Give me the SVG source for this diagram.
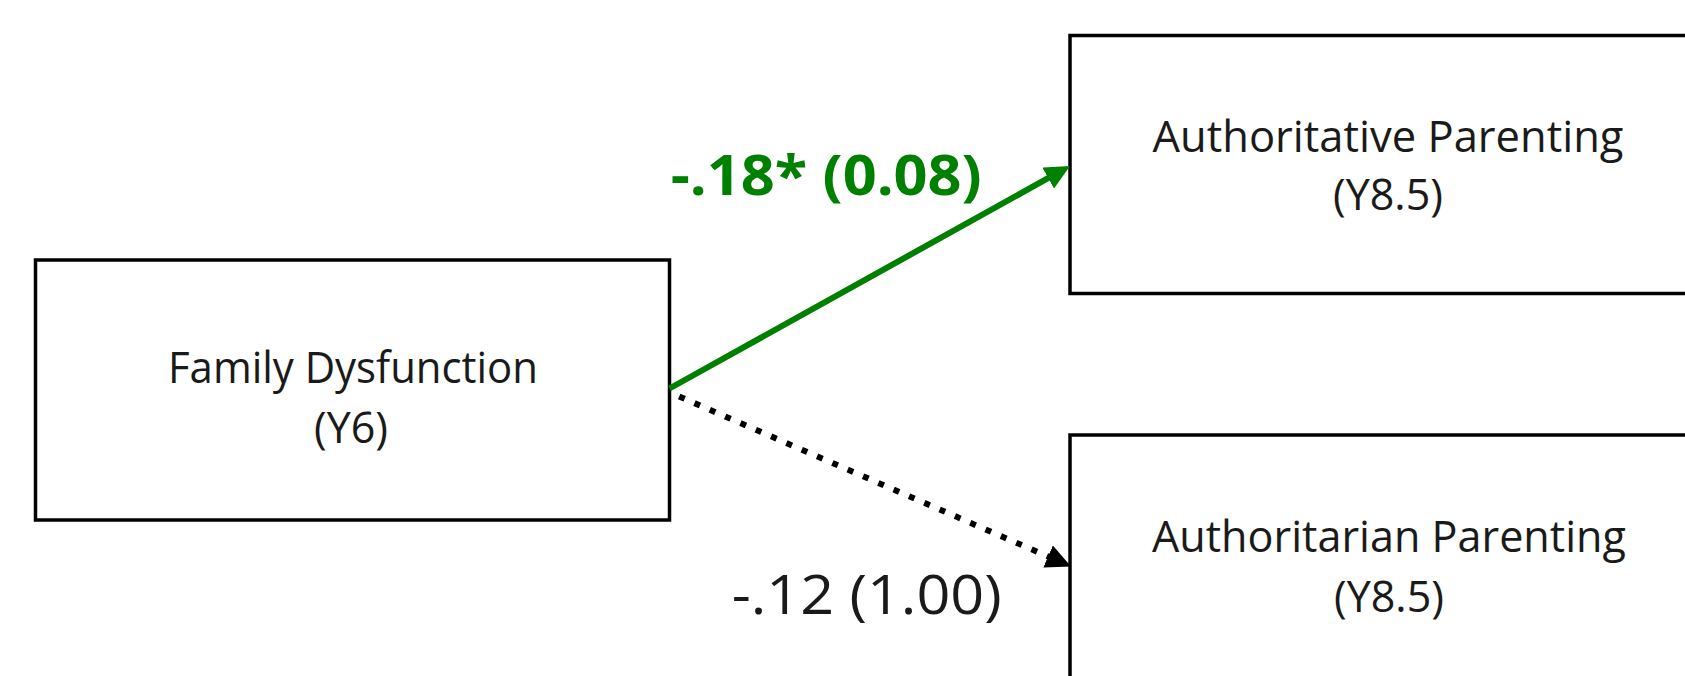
<svg xmlns="http://www.w3.org/2000/svg" width="1685" height="676" viewBox="0 0 1685 676">
  <style>
    .box { fill: #ffffff; stroke: #000000; stroke-width: 3.5; }
    .lbl { font-family: "Open Sans", "Noto Sans", "Liberation Sans", sans-serif; font-size: 43px; fill: #1a1a1a; text-anchor: middle; }
    .coef { font-family: "Open Sans", "Noto Sans", "Liberation Sans", sans-serif; }
    .sig { font-size: 56px; font-weight: bold; fill: #008000; }
    .ns { font-size: 54px; fill: #1a1a1a; }
    .solid { fill: none; stroke: #008000; stroke-width: 6; }
    .dotted { fill: none; stroke: #000000; stroke-width: 6; stroke-dasharray: 6 10.7; stroke-dashoffset: -10; }
  </style>
  <defs>
    <marker id="headGreen" markerUnits="userSpaceOnUse" viewBox="0 0 25 24" markerWidth="25" markerHeight="24" refX="7" refY="12" orient="auto">
      <path d="M0,0 L25,12 L0,24 z" fill="#008000"/>
    </marker>
    <marker id="headBlack" markerUnits="userSpaceOnUse" viewBox="0 0 25 24" markerWidth="25" markerHeight="24" refX="7" refY="12" orient="auto">
      <path d="M0,0 L25,12 L0,24 z" fill="#000000"/>
    </marker>
  </defs>
  <rect width="1685" height="676" fill="#ffffff"/>

  <g id="node-family-dysfunction">
    <rect class="box" x="35.5" y="260" width="634" height="260"/>
    <text class="lbl" x="353" y="383.3" textLength="370" lengthAdjust="spacingAndGlyphs">Family Dysfunction</text>
    <text class="lbl" x="351" y="443.3">(Y6)</text>
  </g>

  <g id="node-authoritative">
    <rect class="box" x="1070" y="35.5" width="636" height="258"/>
    <text class="lbl" x="1388" y="151.7" textLength="471" lengthAdjust="spacingAndGlyphs">Authoritative Parenting</text>
    <text class="lbl" x="1388" y="210">(Y8.5)</text>
  </g>

  <g id="node-authoritarian">
    <rect class="box" x="1070" y="435" width="636" height="260"/>
    <text class="lbl" x="1389" y="551.7" textLength="474" lengthAdjust="spacingAndGlyphs">Authoritarian Parenting</text>
    <text class="lbl" x="1389" y="611.7">(Y8.5)</text>
  </g>

  <g id="connectors">
    <line class="solid" x1="669.5" y1="388.5" x2="1054.3" y2="174.7" marker-end="url(#headGreen)"/>
    <line class="dotted" x1="670" y1="392.5" x2="1054.5" y2="559.3" marker-end="url(#headBlack)"/>
    <text class="coef sig" x="670.7" y="195" textLength="311" lengthAdjust="spacingAndGlyphs">-.18* (0.08)</text>
    <text class="coef ns" x="731.7" y="614" textLength="270" lengthAdjust="spacingAndGlyphs">-.12 (1.00)</text>
  </g>
</svg>
